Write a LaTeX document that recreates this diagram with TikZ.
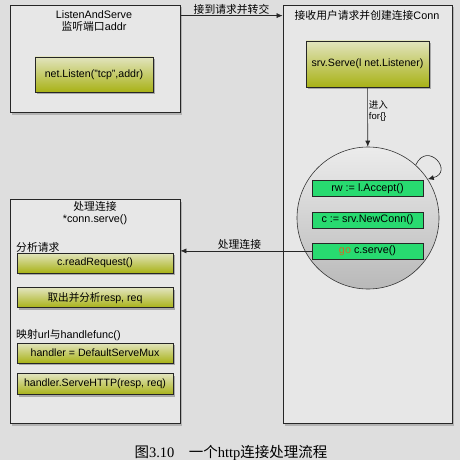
\documentclass[tikz,border=0pt]{standalone}
\usepackage{fontspec}
\setmainfont{Liberation Sans}
\newfontfamily\cjk{Noto Sans CJK SC}
\newfontfamily\capserif{Liberation Serif}
\usetikzlibrary{arrows.meta, positioning, shadows}
\definecolor{bggray}{RGB}{222,222,222}
\definecolor{panelgray}{RGB}{231,231,231}
\definecolor{ylight}{RGB}{226,228,190}
\definecolor{ymid}{RGB}{226,236,56}
\definecolor{ydark}{RGB}{168,178,22}
\definecolor{gfill}{RGB}{40,218,112}
\definecolor{gotext}{RGB}{205,110,40}
\tikzset{
    panel/.style={rectangle, draw=black!85, fill=panelgray, line width=0.8pt, drop shadow={opacity=0.45, shadow xshift=1.5pt, shadow yshift=-2.5pt}},
    ybox/.style={rectangle, draw=black!85, top color=ylight, middle color=ymid, bottom color=ydark, inner sep=0pt, line width=0.7pt, drop shadow={opacity=0.6, shadow xshift=1.5pt, shadow yshift=-2pt}, font=\fontsize{10.6}{12}\selectfont},
    gbox/.style={rectangle, draw=black!85, fill=gfill, minimum width=111pt, minimum height=16pt, inner sep=0pt, line width=0.7pt, font=\fontsize{10.8}{12}\selectfont},
    note/.style={font=\fontsize{10.8}{12}\selectfont, inner sep=1pt, align=center},
    flow/.style={draw=black!85, line width=0.6pt, -{Latex[length=6pt, width=5pt]}},
}

\begin{document}
\begin{tikzpicture}[x=1pt, y=-1pt]
    \fill[bggray] (0,0) rectangle (460,460);
    \useasboundingbox (0,0) rectangle (460,460);
    % the three panels
    \node[panel, minimum width=170pt, minimum height=107pt] (listen) at (95,58.5) {};
    \node[panel, minimum width=169pt, minimum height=418pt] (accept) at (367.5,214) {};
    \node[panel, minimum width=170pt, minimum height=224pt] (handle) at (95,311) {};
    \node[note] at (94,21) {ListenAndServe\\{\cjk 监听端口}addr};
    \node[note] at (367,15) {{\cjk 接收用户请求并创建连接}Conn};
    \node[note] at (95,213.5) {{\cjk 处理连接}\\*conn.serve()};
    % listen
    \node[ybox, minimum width=118pt, minimum height=35pt] (netlisten) at (94,74.5) {net.Listen("tcp",addr)};
    % accept loop
    \node[ybox, minimum width=123pt, minimum height=46pt] (serve) at (367.5,64) {srv.Serve(l net.Listener)};
    \node[circle, draw=black!80, line width=0.6pt, top color=gray!15, bottom color=gray!55, minimum size=142pt] (loop) at (368,218) {};
    \node[gbox] (acc) at (367.5,188.5) {rw := l.Accept()};
    \node[gbox, below=15pt of acc] (newconn) {c := srv.NewConn()};
    \node[gbox, below=14pt of newconn] (go) {{\color{gotext}go} c.serve()};
    % serve the connection
    \node[note, anchor=west] at (15,247) {\cjk 分析请求};
    \node[ybox, minimum width=156pt, minimum height=20pt] (read) at (95,263) {c.readRequest()};
    \node[ybox, minimum width=156pt, minimum height=20pt, below=14pt of read] (parse) {{\cjk 取出并分析}resp, req};
    \node[note, anchor=west] at (15,335) {{\cjk 映射}url{\cjk 与}handlefunc()};
    \node[ybox, minimum width=156pt, minimum height=20pt] (mux) at (95,353) {handler = DefaultServeMux};
    \node[ybox, minimum width=156pt, minimum height=21pt, below=10pt of mux] (servehttp) {handler.ServeHTTP(resp, req)};
    % connectors
    \draw[flow] ([yshift=-11pt]listen.north east) -- ([yshift=-11pt]accept.north west)
        node[midway, above, note] {\cjk 接到请求并转交};
    \draw[flow] (serve) -- (loop)
        node[pos=0.4, right, note, align=left, font=\fontsize{9.5}{10.5}\selectfont] {{\cjk 进入}\\for\{\}};
    \draw[flow] (loop.48) to[out=65, in=15, looseness=3.8] (loop.33);
    \draw[flow] (go.west) -- (handle.east |- go.west)
        node[pos=0.55, above, note] {\cjk 处理连接};
    \node[font=\fontsize{14.5}{16}\selectfont] (caption) at (231,453) {{\cjk 图}{\capserif 3.10}\quad{\cjk 一个}{\capserif http}{\cjk 连接处理流程}};
\end{tikzpicture}
\end{document}
